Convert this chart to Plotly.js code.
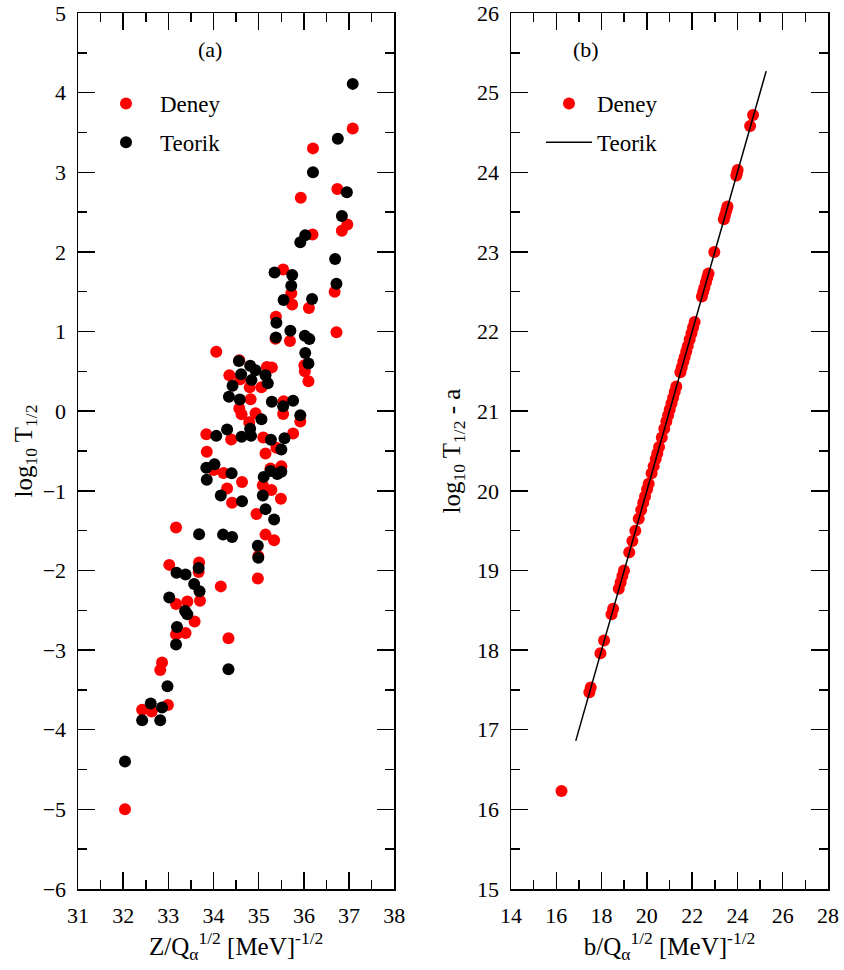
<!DOCTYPE html>
<html>
<head>
<meta charset="utf-8">
<script src="https://cdn.plot.ly/plotly-3.0.1.min.js"></script>
<style>html,body{margin:0;padding:0;background:#fff;}#chart{width:844px;height:970px;}</style>
</head>
<body>
<div id="chart"></div>
<script>
// Panel (a): Deney (experimental) points
const aDeneyX = [37.08,36.20,36.74,35.93,36.96,36.84,36.19,35.54,36.68,35.72,35.74,36.11,35.38,36.72,35.37,35.69,34.06,34.57,35.18,35.29,36.01,36.02,34.35,34.59,36.10,34.80,35.06,34.82,35.55,34.57,34.62,34.93,35.54,35.92,34.79,33.84,34.39,35.10,35.76,35.39,33.85,35.15,34.00,34.22,34.63,35.26,35.50,35.09,35.28,34.30,34.41,35.49,34.95,33.17,35.15,35.34,34.99,34.98,33.02,33.68,33.67,34.16,33.70,33.42,33.17,33.58,33.38,33.17,34.33,32.86,32.82,32.99,32.42,32.63,32.04];
const aDeneyY = [3.55,3.30,2.79,2.68,2.345,2.265,2.22,1.78,1.50,1.48,1.34,1.295,1.185,0.99,0.91,0.88,0.745,0.64,0.556,0.55,0.578,0.50,0.45,0.40,0.377,0.30,0.30,0.15,0.125,0.034,-0.04,-0.025,-0.034,-0.13,-0.14,-0.29,-0.355,-0.33,-0.28,-0.46,-0.51,-0.53,-0.74,-0.775,-0.89,-0.72,-0.69,-0.93,-0.99,-0.97,-1.15,-1.10,-1.29,-1.46,-1.55,-1.62,-1.82,-2.10,-1.93,-1.90,-2.02,-2.20,-2.38,-2.39,-2.42,-2.64,-2.785,-2.805,-2.85,-3.157,-3.25,-3.69,-3.75,-3.77,-5.0];
// Panel (a): Teorik (theoretical) points
const aTeorikX = [37.08,36.75,36.20,36.95,36.84,36.03,35.92,36.69,35.35,35.74,36.72,35.72,35.55,36.18,35.39,35.70,35.38,36.02,36.12,36.03,34.56,34.81,34.93,36.10,34.61,35.15,34.84,35.20,34.42,34.34,34.58,35.29,35.76,35.54,35.92,35.06,34.81,34.06,34.30,34.62,34.83,35.27,35.57,35.50,34.02,33.84,34.40,33.85,35.26,35.41,35.50,35.11,34.16,34.63,35.09,35.15,35.34,33.68,34.21,34.41,34.98,34.99,33.67,33.18,33.38,33.57,33.69,33.02,33.37,33.42,33.19,33.17,34.33,32.98,32.61,32.86,32.42,32.82,32.04];
const aTeorikY = [4.11,3.42,3.00,2.75,2.45,2.21,2.12,1.91,1.74,1.71,1.60,1.575,1.395,1.41,1.11,1.01,0.925,0.946,0.905,0.73,0.63,0.57,0.515,0.60,0.465,0.45,0.39,0.35,0.32,0.18,0.147,0.117,0.13,0.063,-0.05,-0.10,-0.22,-0.31,-0.23,-0.32,-0.31,-0.36,-0.34,-0.48,-0.666,-0.71,-0.78,-0.86,-0.75,-0.79,-0.76,-0.825,-1.06,-1.13,-1.06,-1.23,-1.36,-1.545,-1.55,-1.58,-1.69,-1.84,-1.97,-2.03,-2.05,-2.17,-2.26,-2.34,-2.51,-2.55,-2.71,-2.93,-3.24,-3.455,-3.67,-3.72,-3.88,-3.88,-4.40];
// Panel (b): Deney points
const bDeneyX = [24.69,24.56,24.01,23.98,23.95,23.56,23.51,23.45,23.40,22.98,22.72,22.67,22.61,22.54,22.49,22.43,22.11,22.04,21.97,21.89,21.81,21.74,21.67,21.61,21.54,21.48,21.30,21.23,21.16,21.09,21.01,20.94,20.86,20.77,20.66,20.54,20.46,20.39,20.30,20.21,20.08,20.01,19.92,19.84,19.75,19.64,19.49,19.36,19.22,18.99,18.92,18.84,18.76,18.51,18.44,18.11,17.95,17.52,17.46,16.23];
const bDeneyY = [24.72,24.58,24.03,23.99,23.96,23.57,23.52,23.46,23.41,23.00,22.73,22.68,22.62,22.55,22.50,22.44,22.12,22.05,21.98,21.90,21.82,21.75,21.68,21.62,21.55,21.49,21.31,21.24,21.17,21.10,21.02,20.95,20.87,20.78,20.67,20.55,20.47,20.40,20.31,20.22,20.09,20.02,19.93,19.85,19.76,19.65,19.50,19.37,19.23,19.00,18.93,18.85,18.77,18.52,18.45,18.12,17.96,17.53,17.47,16.23];
// Panel (b): Teorik line
const bTeorikX = [16.86, 25.27];
const bTeorikY = [16.86, 25.27];

const FONT = 'Liberation Serif, Times New Roman, serif';
const RED = '#ff0000';
const BLACK = '#000000';

const traces = [
  {x: aDeneyX, y: aDeneyY, xaxis: 'x', yaxis: 'y', type: 'scatter', mode: 'markers', name: 'Deney',
   marker: {color: RED, size: 12, line: {width: 0}}, legend: 'legend', legendgroup: 'a1'},
  {x: aTeorikX, y: aTeorikY, xaxis: 'x', yaxis: 'y', type: 'scatter', mode: 'markers', name: 'Teorik',
   marker: {color: BLACK, size: 12, line: {width: 0}}, legend: 'legend', legendgroup: 'a2'},
  {x: bDeneyX, y: bDeneyY, xaxis: 'x2', yaxis: 'y2', type: 'scatter', mode: 'markers', name: 'Deney',
   marker: {color: RED, size: 12, line: {width: 0}}, legend: 'legend2', legendgroup: 'b1'},
  {x: bTeorikX, y: bTeorikY, xaxis: 'x2', yaxis: 'y2', type: 'scatter', mode: 'lines', name: 'Teorik',
   line: {color: BLACK, width: 1.5}, legend: 'legend2', legendgroup: 'b2'}
];

function axisBase(range, dtick, minorDtick) {
  return {
    range: range, dtick: dtick, tick0: range[0], showgrid: false, zeroline: false,
    showline: true, linecolor: BLACK, linewidth: 1.5, mirror: 'ticks',
    ticks: 'inside', ticklen: 17, tickwidth: 1.5, tickcolor: BLACK,
    minor: {dtick: minorDtick, ticks: 'inside', ticklen: 9, tickwidth: 1.5, tickcolor: BLACK, showgrid: false},
    tickfont: {family: FONT, size: 22, color: BLACK},
    automargin: false
  };
}

const L = 78, R = 16, T = 13, B = 81;
const W = 844 - L - R, H = 970 - T - B;
const px = v => (v - L) / W;
const py = v => 1 - (v - T) / H;
const TITLE_FONT = {family: FONT, size: 25, color: BLACK};

const layout = {
  width: 844, height: 970,
  margin: {l: L, r: R, t: T, b: B},
  paper_bgcolor: '#ffffff', plot_bgcolor: '#ffffff',
  font: {family: FONT, color: BLACK},
  xaxis: Object.assign(axisBase([31, 38], 1, 0.5), {domain: [0, px(394.3)], anchor: 'y',
    ticklabelstandoff: 6,
    title: {text: 'Z/Q<sub>α</sub><sup>1/2</sup> [MeV]<sup>-1/2</sup>', font: TITLE_FONT, standoff: 10}}),
  yaxis: Object.assign(axisBase([-6, 5], 1, 0.5), {domain: [0, 1], anchor: 'x',
    ticklabelstandoff: 6,
    title: {text: 'log<sub>10</sub> T<sub>1/2</sub>', font: TITLE_FONT, standoff: 3}}),
  xaxis2: Object.assign(axisBase([14, 28], 2, 1), {domain: [px(511), 1], anchor: 'y2',
    ticklabelstandoff: 6,
    title: {text: 'b/Q<sub>α</sub><sup>1/2</sup> [MeV]<sup>-1/2</sup>', font: TITLE_FONT, standoff: 10}}),
  yaxis2: Object.assign(axisBase([15, 26], 1, 0.5), {domain: [0, 1], anchor: 'x2',
    ticklabelstandoff: 6,
    title: {text: 'log<sub>10</sub> T<sub>1/2</sub> - a', font: TITLE_FONT, standoff: 9}}),
  showlegend: true,
  legend: {x: px(92), y: py(82), xanchor: 'left', yanchor: 'top', bgcolor: 'rgba(0,0,0,0)',
    borderwidth: 0, font: {family: FONT, size: 23, color: BLACK}, tracegroupgap: 6, itemwidth: 58, traceorder: 'grouped'},
  legend2: {x: px(541), y: py(82), xanchor: 'left', yanchor: 'top', bgcolor: 'rgba(0,0,0,0)',
    borderwidth: 0, font: {family: FONT, size: 23, color: BLACK}, tracegroupgap: 6, itemwidth: 46, traceorder: 'grouped'},
  annotations: [
    {text: '(a)', x: px(210), y: py(50), xref: 'paper', yref: 'paper', showarrow: false,
     font: {family: FONT, size: 22, color: BLACK}, xanchor: 'center', yanchor: 'middle'},
    {text: '(b)', x: px(586), y: py(50), xref: 'paper', yref: 'paper', showarrow: false,
     font: {family: FONT, size: 22, color: BLACK}, xanchor: 'center', yanchor: 'middle'}
  ]
};

Plotly.newPlot('chart', traces, layout, {staticPlot: true, displayModeBar: false});
</script>
</body>
</html>
